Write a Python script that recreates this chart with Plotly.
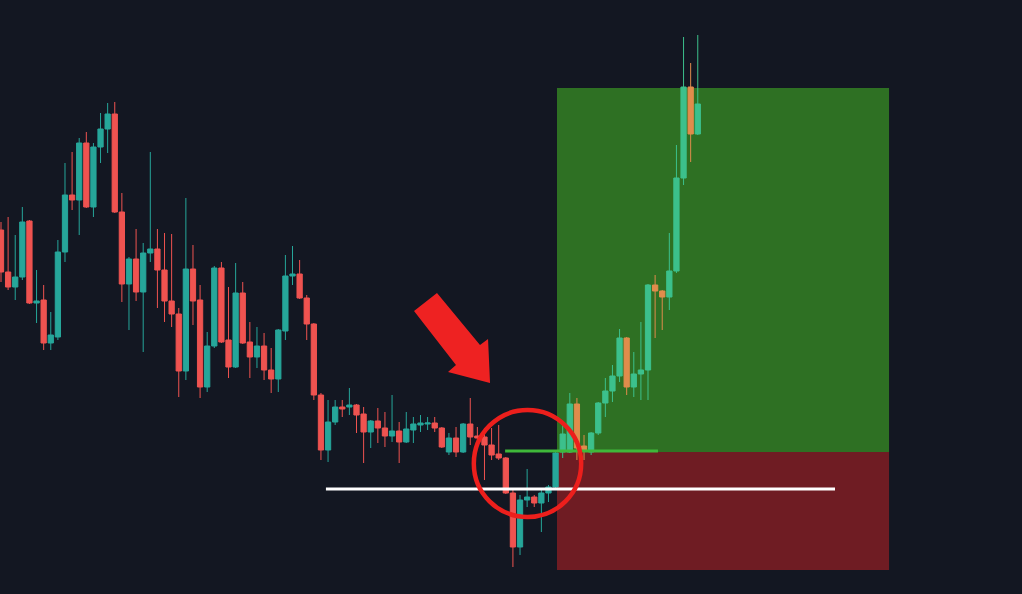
import plotly.graph_objects as go

# ---- data (price units) ----
opens = [37.0, 32.8, 31.3, 32.3, 37.9, 29.7, 30.0, 25.7, 26.3, 34.8,
         40.5, 40.0, 45.7, 39.3, 45.3, 47.1, 48.6, 38.8, 31.6, 34.1,
         30.8, 34.7, 35.1, 33.0, 29.9, 28.6, 22.9, 33.1, 30.0, 21.3,
         25.4, 33.2, 26.0, 23.3, 30.7, 25.8, 24.3, 25.4, 23.0, 22.1,
         26.9, 32.4, 32.6, 30.2, 27.6, 20.5, 15.0, 17.8, 19.3, 19.3,
         19.5, 18.6, 16.8, 17.9, 17.2, 16.4, 16.9, 15.8, 17.0, 17.5,
         17.6, 17.7, 17.2, 14.8, 16.2, 14.8, 17.6, 16.4, 16.3, 15.5,
         14.6, 14.2, 10.7, 5.3, 10.0, 10.3, 9.7, 10.7, 11.3, 14.8,
         14.8, 19.6, 15.4, 14.8, 16.7, 19.7, 20.9, 22.4, 26.2, 21.3,
         22.6, 23.0, 31.5, 30.9, 30.3, 32.9, 42.2, 51.3, 46.6]
highs = [37.8, 38.3, 36.5, 39.3, 38.0, 33.0, 31.5, 28.8, 36.0, 43.7,
         44.8, 46.2, 46.8, 45.7, 48.7, 49.7, 49.8, 40.7, 34.3, 37.1,
         35.7, 44.8, 37.1, 36.7, 36.6, 29.2, 40.2, 35.5, 31.5, 26.8,
         33.4, 33.8, 31.3, 33.7, 31.8, 27.8, 27.3, 26.7, 25.2, 27.1,
         34.5, 35.4, 34.0, 30.5, 27.7, 20.7, 20.0, 20.0, 20.0, 21.2,
         19.6, 19.3, 18.0, 19.2, 18.8, 20.5, 17.8, 18.8, 18.3, 18.5,
         18.3, 18.3, 17.3, 16.7, 17.3, 17.7, 20.2, 17.3, 17.2, 17.2,
         17.5, 14.3, 11.2, 10.5, 13.1, 10.5, 11.0, 11.5, 15.0, 17.5,
         20.7, 20.2, 16.5, 16.8, 19.8, 22.2, 23.5, 27.1, 26.3, 24.8,
         27.8, 31.6, 32.5, 31.0, 36.7, 45.5, 56.3, 53.7, 56.5]
lows = [31.8, 31.0, 30.0, 32.0, 29.6, 27.7, 25.0, 25.0, 26.0, 33.8,
        39.0, 36.5, 39.2, 38.3, 43.7, 44.7, 38.7, 29.8, 27.0, 29.9,
        24.8, 33.8, 29.2, 27.8, 27.3, 20.3, 22.0, 27.5, 20.2, 20.8,
        25.2, 25.7, 22.2, 23.2, 25.6, 22.2, 23.2, 22.0, 20.7, 20.8,
        26.0, 31.5, 30.1, 26.0, 20.0, 14.0, 13.8, 17.5, 18.3, 18.5,
        16.7, 13.7, 15.2, 15.7, 15.3, 15.8, 13.7, 15.7, 15.7, 16.8,
        17.0, 16.8, 15.2, 14.5, 14.3, 14.7, 15.5, 15.3, 12.0, 14.0,
        14.0, 10.6, 3.3, 4.5, 9.3, 9.3, 6.8, 9.8, 11.0, 14.2,
        14.7, 14.0, 14.0, 14.5, 16.5, 18.3, 19.8, 21.8, 20.5, 20.3,
        20.0, 20.0, 26.2, 27.0, 29.0, 32.7, 41.5, 43.8, 46.5]
closes = [32.8, 31.3, 32.3, 37.8, 29.7, 29.9, 25.7, 26.5, 34.8, 40.5,
          40.0, 45.7, 39.3, 45.3, 47.1, 48.6, 38.8, 31.6, 34.1, 30.8,
          34.7, 35.1, 33.0, 29.9, 28.6, 22.9, 33.1, 29.9, 21.3, 25.4,
          33.2, 25.8, 23.3, 30.7, 25.7, 24.3, 25.4, 23.0, 22.1, 27.0,
          32.4, 32.6, 30.2, 27.6, 20.5, 15.0, 17.8, 19.3, 19.1, 19.5,
          18.5, 16.8, 17.9, 17.2, 16.4, 16.9, 15.8, 17.1, 17.6, 17.7,
          17.7, 17.2, 15.3, 16.2, 14.8, 17.6, 16.3, 16.2, 15.5, 14.5,
          14.2, 10.7, 5.3, 10.0, 10.3, 9.7, 10.7, 11.3, 14.7, 16.6,
          19.6, 15.2, 14.9, 16.7, 19.7, 20.9, 22.4, 26.2, 21.3, 22.6,
          23.0, 31.5, 30.9, 30.3, 32.9, 42.2, 51.3, 46.6, 49.6]

entry_index = 79          # first candle inside the trade zone
entry_price = 14.8        # entry level (green line / zone boundary)
stop_price = 3.0          # stop-loss (bottom of red zone)
target_price = 51.2       # take-profit (top of green zone)
support_price = 11.1      # white support line
zone_x = (78.2, 124.9)
support_x = (45.7, 117.3)
entry_line_x = (70.9, 92.4)
circle_box = (66.5, 81.6, 8.3, 19.0)
arrow_pts = [(58.09, 28.9), (61.32, 30.7), (67.37, 25.5), (68.50, 26.1),
             (68.78, 21.7), (62.87, 22.8), (63.99, 23.5)]

BG = "#131722"
TEAL = "#26a69a"
RED = "#ef5350"
ZONE_UP = "#3cc08c"
ZONE_DOWN = "#e08c4c"

idx = list(range(len(opens)))
n0 = entry_index

fig = go.Figure()
fig.add_trace(go.Candlestick(
    x=idx[:n0], open=opens[:n0], high=highs[:n0], low=lows[:n0], close=closes[:n0],
    increasing=dict(line=dict(color=TEAL, width=1), fillcolor=TEAL),
    decreasing=dict(line=dict(color=RED, width=1), fillcolor=RED),
    whiskerwidth=0, showlegend=False, hoverinfo="skip"))
fig.add_trace(go.Candlestick(
    x=idx[n0:], open=opens[n0:], high=highs[n0:], low=lows[n0:], close=closes[n0:],
    increasing=dict(line=dict(color=ZONE_UP, width=1), fillcolor=ZONE_UP),
    decreasing=dict(line=dict(color=ZONE_DOWN, width=1), fillcolor=ZONE_DOWN),
    whiskerwidth=0, showlegend=False, hoverinfo="skip"))

shapes = [
    dict(type="rect", layer="below", x0=zone_x[0], x1=zone_x[1], y0=entry_price, y1=target_price,
         fillcolor="#2e7023", line=dict(width=0)),
    dict(type="rect", layer="below", x0=zone_x[0], x1=zone_x[1], y0=stop_price, y1=entry_price,
         fillcolor="#6f1c23", line=dict(width=0)),
    dict(type="line", x0=support_x[0], x1=support_x[1], y0=support_price, y1=support_price,
         line=dict(color="#ffffff", width=3)),
    dict(type="line", x0=entry_line_x[0], x1=entry_line_x[1], y0=entry_price + 0.1, y1=entry_price + 0.1,
         line=dict(color="#3fb83a", width=3)),
    dict(type="circle", x0=circle_box[0], x1=circle_box[1], y0=circle_box[2], y1=circle_box[3],
         line=dict(color="#ec1f1c", width=4.5)),
    dict(type="path", path="M " + " L ".join(f"{x},{y}" for x, y in arrow_pts) + " Z",
         fillcolor="#ee2222", line=dict(width=0)),
]

fig.update_layout(
    width=1022, height=594,
    margin=dict(l=0, r=0, t=0, b=0),
    paper_bgcolor=BG, plot_bgcolor=BG,
    shapes=shapes,
    boxgap=0.26, boxgroupgap=0,
    xaxis=dict(range=[-0.1406, 143.6], visible=False, rangeslider=dict(visible=False), fixedrange=True),
    yaxis=dict(range=[0.6, 60], visible=False, fixedrange=True),
    showlegend=False,
)

fig.write_html("out.html", config={"displayModeBar": False},
               post_script="document.body.style.margin='0';document.body.style.background='#131722';document.body.style.overflow='hidden';")
